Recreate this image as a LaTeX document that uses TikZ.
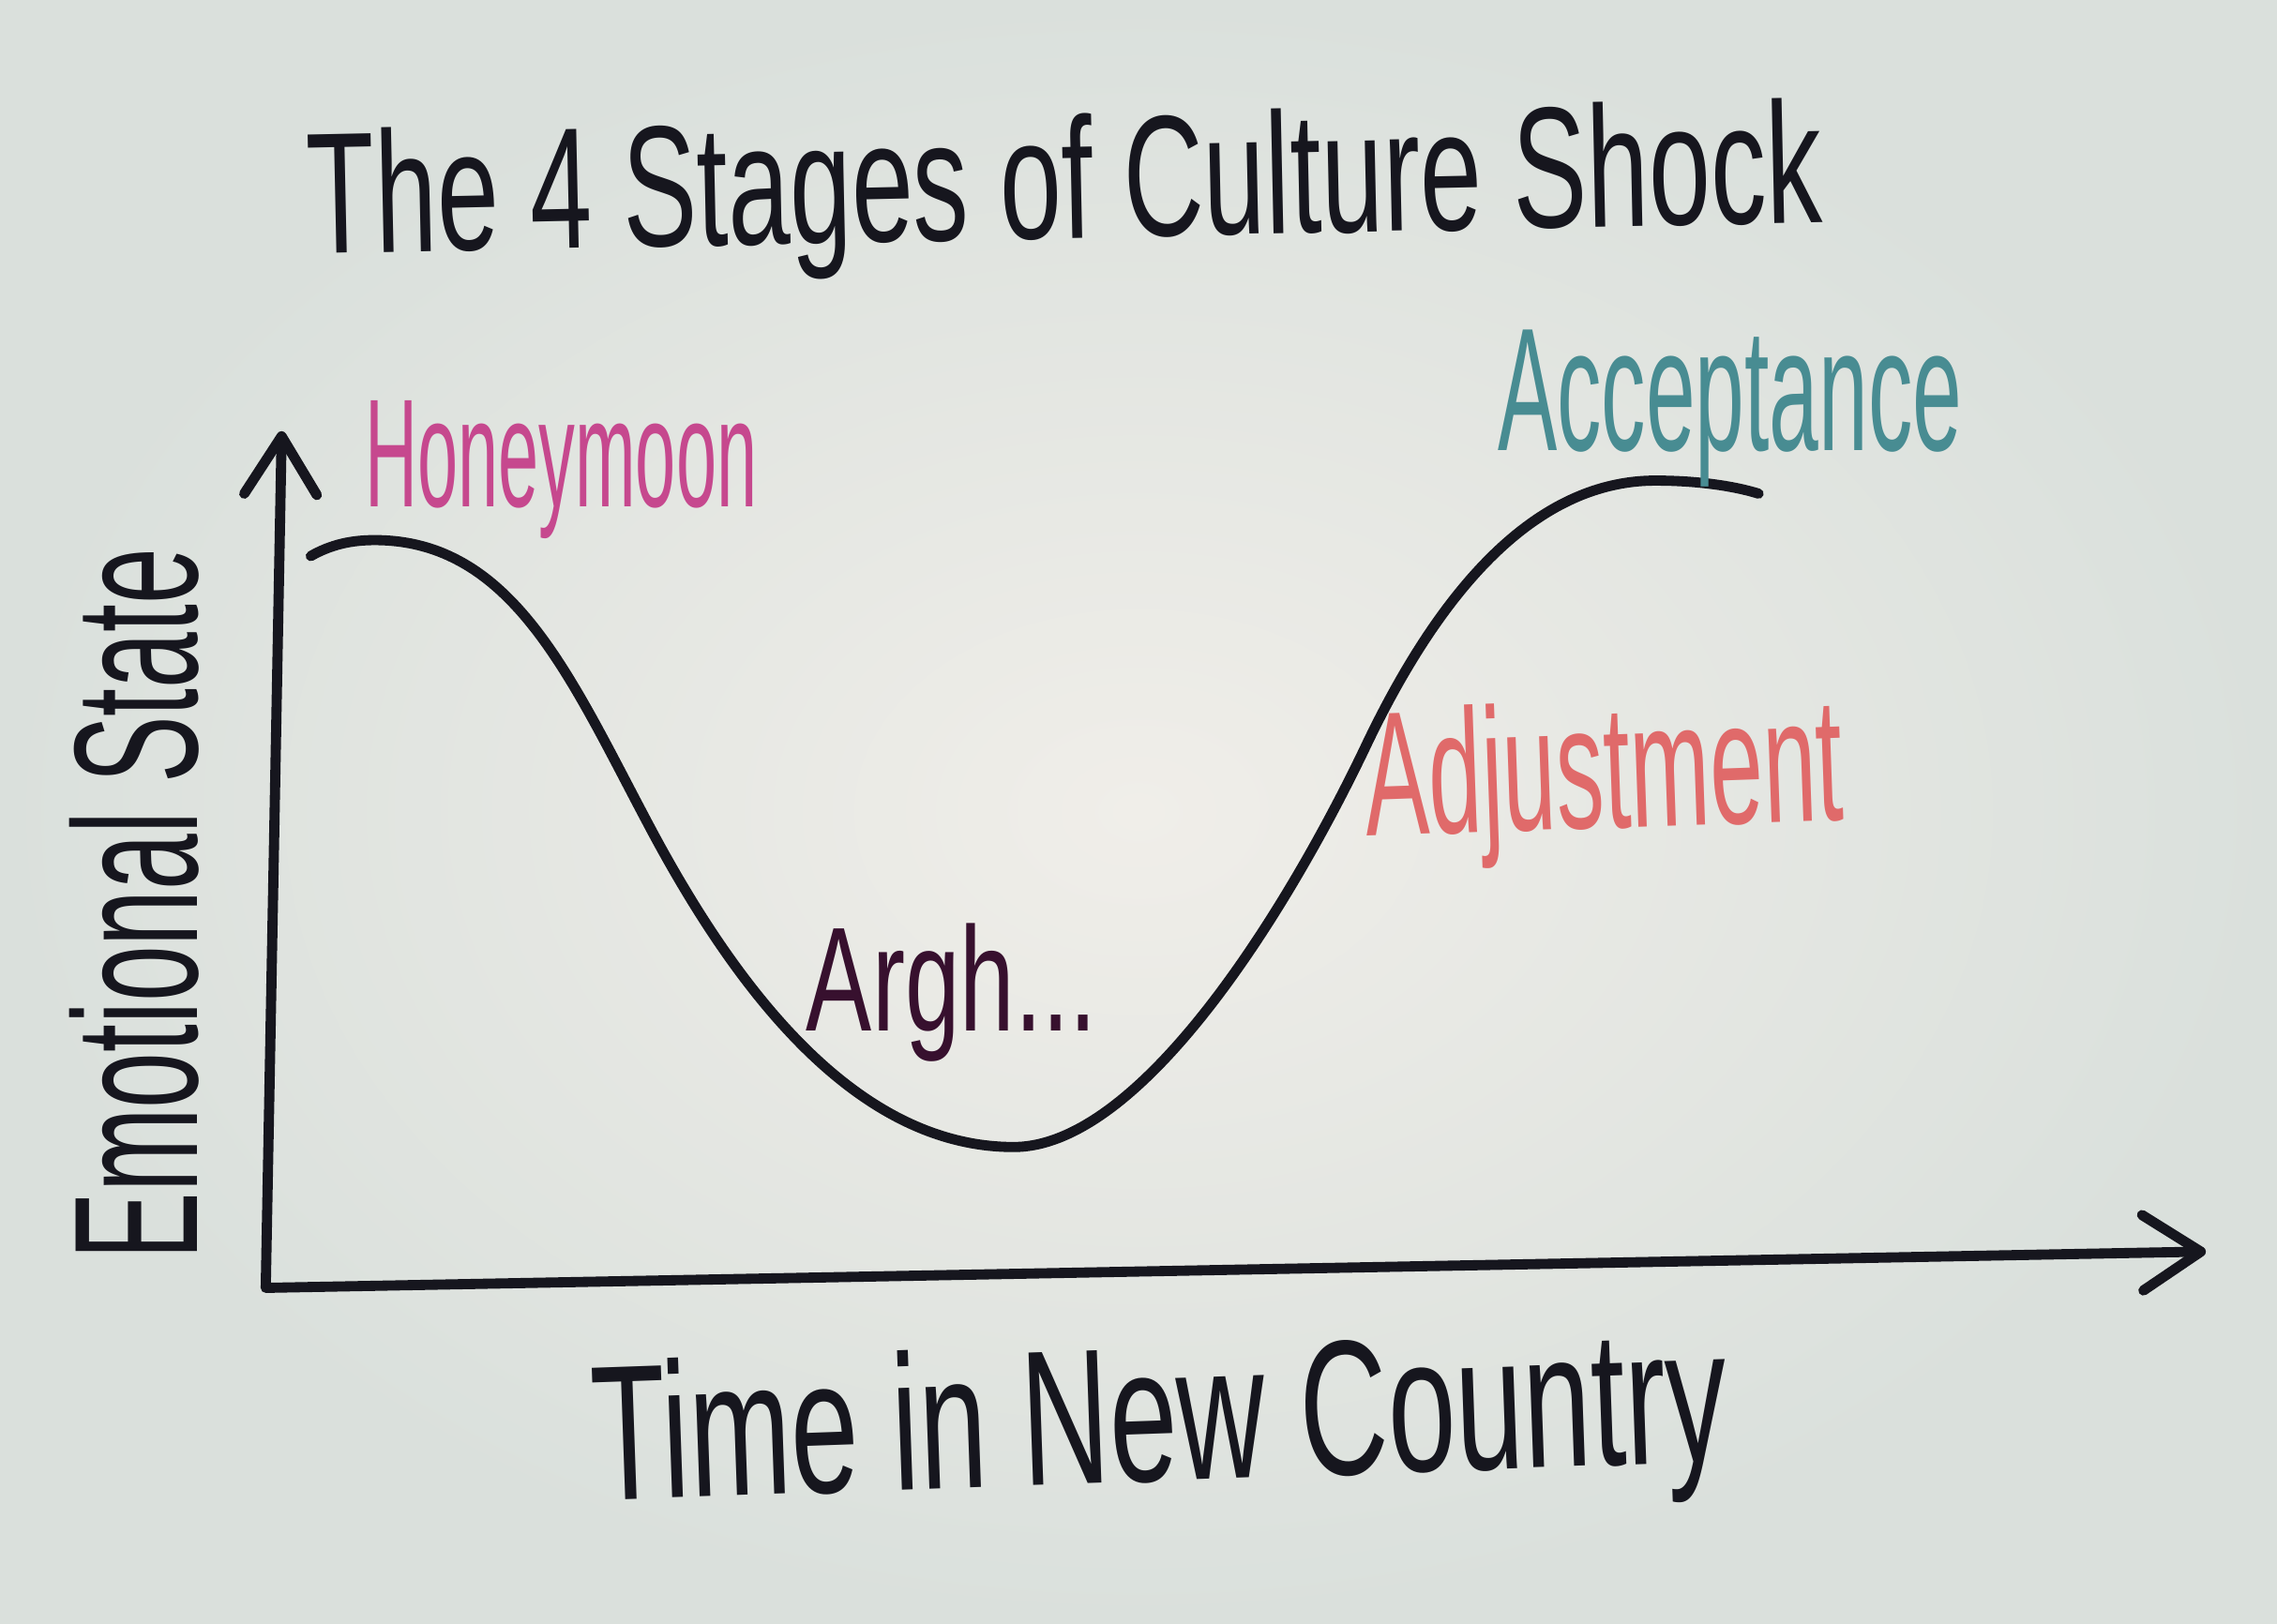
\documentclass[tikz,border=0pt]{standalone}
\usepackage{fontspec}
\setmainfont{Liberation Sans}
\usepackage{graphicx}
\usetikzlibrary{arrows.meta}
\definecolor{myink}{RGB}{22, 22, 30}
\definecolor{myhoney}{RGB}{198, 72, 142}
\definecolor{myaccept}{RGB}{72, 140, 146}
\definecolor{myadjust}{RGB}{224, 106, 106}
\definecolor{myargh}{RGB}{55, 16, 46}
\definecolor{mypaperin}{RGB}{240, 238, 233}
\definecolor{mypaperout}{RGB}{218, 224, 220}
\tikzset{every picture/.style={line width=0.75pt}}
\newcommand{\handtext}[3]{\resizebox{#1}{#2}{#3}}

\begin{document}
\begin{tikzpicture}[x=1pt,y=1pt,yscale=-1,xscale=1]
%set diagram left start at 0, and has height of 1118
\useasboundingbox (0,0) rectangle (1568,1118);
%Shape: Paper
\shade [inner color=mypaperin, outer color=mypaperout] (0,0) rectangle (1568,1118);

%Axes
\coordinate (ytip) at (194,297);
\coordinate (origin) at (183,887);
\coordinate (xtip) at (1519,862);
\draw [color=myink, line width=7pt, line join=round, line cap=round,
  {Straight Barb[length=40pt,width=50pt,round]}-{Straight Barb[length=40pt,width=52pt,round]}]
  (ytip) -- (origin) -- (xtip) ;

%Curve
\draw [color=myink, line width=7pt, line cap=round] (214,383) .. controls (228,375) and (242,372) .. (258,372)
  .. controls (352,372) and (392,465) .. (445,565)
  .. controls (505,679) and (588,790) .. (698,790)
  .. controls (785,790) and (885,630) .. (940,515)
  .. controls (985,420) and (1050,331) .. (1140,331)
  .. controls (1170,331) and (1195,335) .. (1211,340) ;

% Text Node
\node (title) [anchor=base, rotate=1.2, inner sep=0pt, text=myink] at (734,164) {\handtext{1043pt}{86pt}{The 4 Stages of Culture Shock}};
% Text Node
\node (honey) [anchor=base west, inner sep=0pt, text=myhoney] at (251,349) {\handtext{270pt}{73pt}{Honeymoon}};
% Text Node
\node (accept) [anchor=base west, inner sep=0pt, text=myaccept] at (1031,310) {\handtext{320pt}{83pt}{Acceptance}};
% Text Node
\node (adjust) [anchor=base west, rotate=2, inner sep=0pt, text=myadjust] at (941,576) {\handtext{329pt}{88pt}{Adjustment}};
% Text Node
\node (argh) [anchor=base west, inner sep=0pt, text=myargh] at (555,710) {\handtext{200pt}{74pt}{Argh...}};
% Text Node
\node (ylabel) [anchor=base west, rotate=90, inner sep=0pt, text=myink] at (136,868) {\handtext{490pt}{88pt}{Emotional State}};
% Text Node
\node (xlabel) [anchor=base, rotate=2, inner sep=0pt, text=myink] at (800,1020) {\handtext{782pt}{96pt}{Time in New Country}};
\end{tikzpicture}
\end{document}
